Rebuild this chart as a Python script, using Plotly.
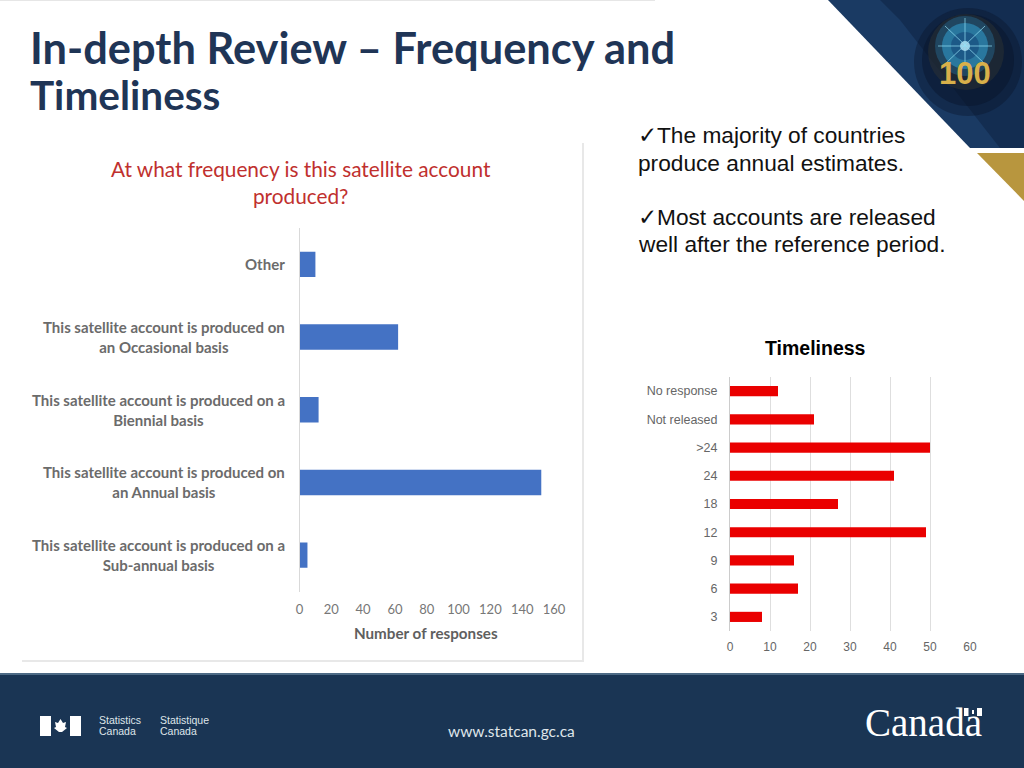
import plotly.graph_objects as go

# ---- data ----
freq_categories = ["Other",
                   "This satellite account is produced on an Occasional basis",
                   "This satellite account is produced on a Biennial basis",
                   "This satellite account is produced on an Annual basis",
                   "This satellite account is produced on a Sub-annual basis"]
freq_labels = ["Other",
               "This satellite account is produced on<br>an Occasional basis",
               "This satellite account is produced on a<br>Biennial basis",
               "This satellite account is produced on<br>an Annual basis",
               "This satellite account is produced on a<br>Sub-annual basis"]
freq_values = [10, 62, 12, 152, 5]
freq_ticks = [0, 20, 40, 60, 80, 100, 120, 140, 160]

time_categories = ["No response", "Not released", ">24", "24", "18", "12", "9", "6", "3"]
time_values = [12, 21, 50, 41, 27, 49, 16, 17, 8]
time_ticks = [0, 10, 20, 30, 40, 50, 60]

W, H = 1024, 768
NAVY = "#1a3554"
def px(x): return x / W
def py(y): return 1 - y / H

def poly(points, fill):
    path = "M " + " L ".join(f"{px(x):.5f},{py(y):.5f}" for x, y in points) + " Z"
    return dict(type="path", xref="paper", yref="paper", path=path, fillcolor=fill,
                line=dict(width=0), layer="below")
def rect(x0, y0, x1, y1, fill):
    return dict(type="rect", xref="paper", yref="paper", x0=px(x0), x1=px(x1), y0=py(y0), y1=py(y1),
                fillcolor=fill, line=dict(width=0), layer="below")
def circle(cx, cy, r, fill):
    return dict(type="circle", xref="paper", yref="paper", x0=px(cx - r), x1=px(cx + r),
                y0=py(cy + r), y1=py(cy - r), fillcolor=fill, line=dict(width=0), layer="below")
def seg(x0, y0, x1, y1, color, w=1):
    return dict(type="line", xref="paper", yref="paper", x0=px(x0), x1=px(x1), y0=py(y0), y1=py(y1),
                line=dict(color=color, width=w), layer="below")
def text(x, y, s, size, color, font="Liberation Sans", anchor="left", align="left", **kw):
    return dict(xref="paper", yref="paper", x=px(x), y=py(y), text=s, showarrow=False,
                xanchor=anchor, yanchor="middle", align=align,
                font=dict(size=size, color=color, family=font), **kw)

shapes = [
    rect(0, 0, 655, 1, "#e6e6e6"),
    # left chart picture frame
    rect(22, 143, 583, 660, "#ffffff"),
    rect(582, 143, 584, 661, "#e8e8e8"),
    rect(22, 660, 584, 662, "#e8e8e8"),
    # corner artwork
    poly([(828, 0), (1024, 0), (1024, 148), (970, 148)], "#1a3a63"),
    poly([(880, 0), (1024, 0), (1024, 148), (1000, 148), (900, 20)], "rgba(10,24,50,0.35)"),
    circle(968, 62, 54, "rgba(8,18,38,0.35)"),
    circle(968, 60, 46, "rgba(8,18,38,0.4)"),
    circle(966, 52, 38, "rgba(60,60,50,0.35)"),
    circle(965, 46, 30, "rgba(40,130,180,0.35)"),
    circle(965, 46, 23, "rgba(50,160,210,0.55)"),
    circle(965, 46, 14, "rgba(20,70,120,0.6)"),
    circle(965, 46, 5, "rgba(190,235,250,0.8)"),
    seg(938, 46, 992, 46, "rgba(150,225,245,0.7)"),
    seg(965, 18, 965, 62, "rgba(150,225,245,0.7)"),
    seg(945, 26, 985, 64, "rgba(150,225,245,0.7)"),
    seg(985, 26, 945, 64, "rgba(150,225,245,0.7)"),
    poly([(977, 153), (1024, 153), (1024, 201)], "#b8963e"),
    # footer
    rect(0, 674, W, 768, NAVY),
    rect(0, 673, W, 675, "#4d6a85"),
    # government flag signature
    rect(40, 716, 51, 736, "#ffffff"),
    rect(70, 716, 81, 736, "#ffffff"),
    poly([(60.5, 719), (63, 723), (66, 722), (65, 727), (67, 728), (62, 732), (59, 732),
          (54, 728), (56, 727), (55, 722), (58, 723)], "#ffffff"),
    rect(964, 708, 968.5, 716, "#ffffff"),
    rect(977, 708, 982, 716, "#ffffff"),
    rect(972, 710, 974, 714, "#ffffff"),
]

annotations = [
    text(28, 47, "<b>In-depth Review – Frequency and</b>", 43.4, "#1f3556", "Lato"),
    text(28, 95, "<b>Timeliness</b>", 40.5, "#1f3556", "Lato"),
    text(636, 135, "✓The majority of countries", 22.7, "#111111"),
    text(636, 163, "produce annual estimates.", 22.7, "#111111"),
    text(636, 217, "✓Most accounts are released", 22.7, "#111111"),
    text(636, 244, "well after the reference period.", 22.7, "#111111"),
    text(301, 182, "At what frequency is this satellite account<br>produced?", 20.8, "#c0302e",
         "Lato", anchor="center", align="center"),
    text(426, 633, "<b>Number of responses</b>", 15.2, "#5f5f5f", "Lato", anchor="center"),
    text(815, 348, "<b>Timeliness</b>", 19.5, "#000000", anchor="center"),
    text(965, 73, "<b>100</b>", 31, "#d8b04a", "Liberation Sans", anchor="center"),
    text(97, 720, "Statistics", 10.5, "#dfe5ea"),
    text(97, 731, "Canada", 10.5, "#dfe5ea"),
    text(158, 720, "Statistique", 10.5, "#dfe5ea"),
    text(158, 731, "Canada", 10.5, "#dfe5ea"),
    text(446, 731, "www.statcan.gc.ca", 15.5, "#dfe5ea", "Lato"),
    text(863, 722, "Canada", 39, "#ffffff", "Liberation Serif"),
]
for cat, label in zip(freq_categories, freq_labels):
    annotations.append(dict(xref="x", yref="y", x=0, y=cat, text="<b>" + label + "</b>", showarrow=False,
                            xanchor="right", yanchor="middle", align="center", xshift=-13,
                            font=dict(size=15, color="#6b6b6b", family="Lato")))

fig = go.Figure()
fig.add_trace(go.Bar(x=freq_values, y=freq_categories, orientation="h", width=0.35,
                     marker=dict(color="#4472c4", line=dict(width=0)), xaxis="x", yaxis="y", hoverinfo="x+y"))
fig.add_trace(go.Bar(x=time_values, y=time_categories, orientation="h", width=0.36,
                     marker=dict(color="#ea0000", line=dict(width=0)), xaxis="x2", yaxis="y2", hoverinfo="x+y"))

fig.update_layout(
    width=W, height=H, margin=dict(l=0, r=0, t=0, b=0, pad=0, autoexpand=False),
    paper_bgcolor="#ffffff", plot_bgcolor="rgba(0,0,0,0)", showlegend=False,
    shapes=shapes, annotations=annotations,
    xaxis=dict(domain=[px(299.5), px(554)], range=[0, 160], tickvals=freq_ticks, showgrid=False, zeroline=False,
               anchor="y", ticks="outside", ticklen=6, tickcolor="rgba(0,0,0,0)", fixedrange=True,
               tickfont=dict(size=13, color="#777777", family="Lato")),
    yaxis=dict(domain=[py(591.5), py(228)], type="category", categoryorder="array", categoryarray=freq_categories,
               range=[4.5, -0.5], anchor="x", showticklabels=False, showgrid=False, zeroline=False,
               showline=True, linecolor="#d9d9d9", linewidth=1, ticks="", fixedrange=True),
    xaxis2=dict(domain=[px(730), px(970)], range=[0, 60], tickvals=time_ticks, showgrid=True, gridcolor="#dedede",
                gridwidth=1.3, zeroline=False, anchor="y2", ticks="outside", ticklen=5, tickcolor="rgba(0,0,0,0)",
                fixedrange=True, tickfont=dict(size=12, color="#666666", family="Liberation Sans")),
    yaxis2=dict(domain=[py(631), py(377)], type="category", categoryorder="array", categoryarray=time_categories,
                range=[8.5, -0.5], anchor="x2", showgrid=False, zeroline=False, showline=True,
                linecolor="#cccccc", linewidth=1, ticks="outside", ticklen=9, tickcolor="rgba(0,0,0,0)",
                fixedrange=True, tickfont=dict(size=12.5, color="#666666", family="Liberation Sans")),
)

fig.write_html("out.html", config=dict(displayModeBar=False),
               post_script="document.body.style.margin='0';document.body.style.overflow='hidden';")
